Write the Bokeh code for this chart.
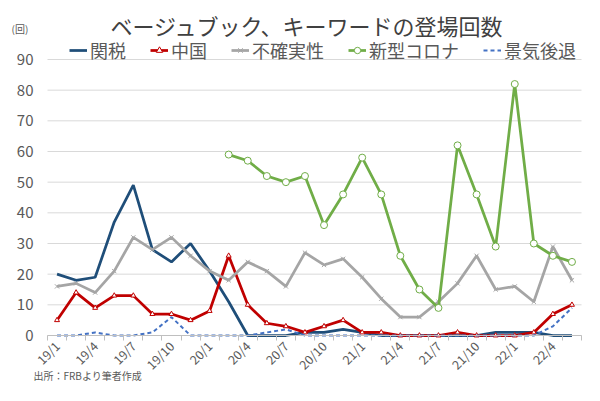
from math import pi
from bokeh.plotting import figure
from bokeh.models import Range1d, FixedTicker, Legend, LegendItem, Label, LinearAxis
from bokeh.embed import file_html
from bokeh.resources import INLINE

# ---- data ----
tick_labels = ["19/1", "19/4", "19/7", "19/10", "20/1", "20/4", "20/7", "20/10",
               "21/1", "21/4", "21/7", "21/10", "22/1", "22/4"]
tariff = [20, 18, 19, 37, 49, 28, 24, 30, 21, 11, 0, 0, 0, 1, 1, 2, 1, 0, 0, 0, 0, 0, 0, 1, 1, 1, 0, 0]
china = [5, 14, 9, 13, 13, 7, 7, 5, 8, 26, 10, 4, 3, 1, 3, 5, 1, 1, 0, 0, 0, 1, 0, 0, 0, 1, 7, 10]
uncertainty = [16, 17, 14, 21, 32, 28, 32, 26, 21, 18, 24, 21, 16, 27, 23, 25, 19, 12, 6, 6, 11, 17, 26, 15, 16, 11, 29, 18]
covid_start = 9
covid = [59, 57, 52, 50, 52, 36, 46, 58, 46, 26, 15, 9, 62, 46, 29, 82, 30, 26, 24]
recession = [0, 0, 1, 0, 0, 1, 6, 0, 0, 0, 0, 1, 2, 0, 0, 0, 0, 0, 0, 0, 0, 0, 0, 0, 0, 0, 3, 9]
y_ticks = list(range(0, 91, 10))

FONT = "Noto Sans CJK JP"
TXT = "#595959"
W, H = 584, 385
PL, PR, PT, PB = 47, 581, 59, 335   # plot area in canvas px (0..90 vertically)
n = len(tariff)
y_min, y_max = 0, 90
cw = (PR - PL) / n                   # px per category
ppu = (PB - PT) / (y_max - y_min)    # px per value unit

# frame covers the whole canvas; axes are pinned inside it
p = figure(width=W, height=H, output_backend="svg", toolbar_location=None,
           x_range=Range1d(-0.5 - PL / cw, -0.5 + (W - PL) / cw),
           y_range=Range1d(y_min - (H - PB) / ppu, y_max + PT / ppu),
           x_axis_location=None, y_axis_location=None,
           min_border=0, min_border_left=0, min_border_right=0, min_border_top=0, min_border_bottom=0)
p.title.visible = False
p.outline_line_color = None
p.background_fill_color = "white"
p.border_fill_color = "white"
for g in p.grid:
    g.visible = False

# horizontal gridlines over the plot area only
p.segment(x0=-0.5, x1=n - 0.5, y0=y_ticks, y1=y_ticks, line_color="#D9D9D9", line_width=1)

# y axis
yax = LinearAxis(fixed_location=-0.5, ticker=FixedTicker(ticks=y_ticks), bounds=(y_min, y_max))
yax.axis_line_color = None
yax.major_tick_line_color = None
yax.minor_tick_line_color = None
yax.major_tick_out = 0
yax.major_tick_in = 0
yax.major_label_text_font = FONT
yax.major_label_text_font_size = "15px"
yax.major_label_text_color = TXT
yax.major_label_standoff = 14
p.add_layout(yax, "left")

# x axis
xt = list(range(0, n, 2))[:len(tick_labels)]
xax = LinearAxis(fixed_location=y_min, bounds=(-0.5, n - 0.5),
                 ticker=FixedTicker(ticks=xt, minor_ticks=[i - 0.5 for i in range(n + 1)]))
xax.major_label_overrides = {t: l for t, l in zip(xt, tick_labels)}
xax.major_tick_line_color = None
xax.major_tick_in = 0
xax.major_tick_out = 5
xax.minor_tick_in = 0
xax.minor_tick_out = 5
xax.minor_tick_line_color = "#BFBFBF"
xax.axis_line_color = "#BFBFBF"
xax.major_label_orientation = pi / 4
xax.major_label_text_font = FONT
xax.major_label_text_font_size = "12.5px"
xax.major_label_text_color = TXT
xax.major_label_standoff = 3
p.add_layout(xax, "below")

x_all = list(range(n))
x_cov = list(range(covid_start, covid_start + len(covid)))

r_t = p.line(x_all, tariff, line_color="#1F4E79", line_width=2.75)
r_c = p.line(x_all, china, line_color="#C00000", line_width=2.75)
m_c = p.scatter(x_all, china, marker="triangle", size=5, fill_color="white", line_color="#C00000", line_width=1)
r_u = p.line(x_all, uncertainty, line_color="#A5A5A5", line_width=2.75)
m_u = p.scatter(x_all, uncertainty, marker="x", size=6, line_color="#A5A5A5", line_width=1)
r_v = p.line(x_cov, covid, line_color="#70AD47", line_width=2.75)
m_v = p.scatter(x_cov, covid, marker="circle", size=7, fill_color="white", line_color="#70AD47", line_width=1)
r_r = p.line(x_all, recession, line_color="#4472C4", line_width=2, line_dash="4 3")

legend = Legend(items=[
    LegendItem(label="関税", renderers=[r_t]),
    LegendItem(label="中国", renderers=[r_c, m_c]),
    LegendItem(label="不確実性", renderers=[r_u, m_u]),
    LegendItem(label="新型コロナ", renderers=[r_v, m_v]),
    LegendItem(label="景気後退", renderers=[r_r]),
], orientation="horizontal", location=(69, H - 39 - 24))
legend.border_line_color = None
legend.background_fill_alpha = 0
legend.label_text_font = FONT
legend.label_text_font_size = "18px"
legend.label_text_color = TXT
legend.glyph_width = 18
legend.glyph_height = 16
legend.label_standoff = 3
legend.spacing = 24
legend.padding = 2
legend.margin = 0
p.add_layout(legend)


def cv(xr, yr):
    # canvas pixel (from top-left) -> screen coords from bottom-left of the frame (= canvas)
    return xr, H - yr


tx, ty = cv(307, 24)
p.add_layout(Label(x=tx, y=ty, x_units="screen", y_units="screen", text="ベージュブック、キーワードの登場回数",
                   text_font=FONT, text_font_size="22px", text_color="#404040",
                   text_align="center", text_baseline="middle"))
ux, uy = cv(11, 28)
p.add_layout(Label(x=ux, y=uy, x_units="screen", y_units="screen", text="(回)",
                   text_font=FONT, text_font_size="10px", text_color=TXT,
                   text_align="left", text_baseline="middle"))
sx, sy = cv(33, 375)
p.add_layout(Label(x=sx, y=sy, x_units="screen", y_units="screen", text="出所：FRBより筆者作成",
                   text_font=FONT, text_font_size="10px", text_color=TXT,
                   text_align="left", text_baseline="middle"))

open("out.html", "w").write(file_html(p, INLINE))
